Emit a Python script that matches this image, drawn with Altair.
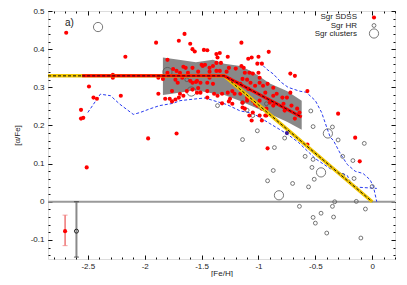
import altair as alt
import pandas as pd

XMIN, XMAX = -2.85, 0.2
YMIN, YMAX = -0.15, 0.5

x_major = [-2.5, -2.0, -1.5, -1.0, -0.5, 0.0]
x_minor = [round(-2.8 + 0.1 * i, 2) for i in range(31)]
y_major = [-0.1, 0.0, 0.1, 0.2, 0.3, 0.4, 0.5]
y_minor = [round(-0.14 + 0.02 * i, 2) for i in range(33)]

sdss_feh = [-2.69, -2.17, -2.49, -2.45, -2.42, -2.56, -2.56, -2.54, -2.28, -2.28, -2.21, -2.51, -1.97, -1.90, -1.88,
            -1.65, -1.70, -1.60, -1.58, -1.56, -1.48, -1.45, -1.37, -1.34, -1.36, -1.27, -1.15, -1.09, -1.06, -1.00, -0.91,
            -1.80, -1.66, -1.64, -1.58, -1.50, -1.47, -1.43, -1.37, -1.33, -1.26, -1.20, -1.15, -1.13, -1.08, -1.01, -1.40, -1.49, -0.97,
            -1.69, -1.62, -1.53, -1.43, -1.37, -1.34, -1.28, -1.72, -1.75, -1.80, -1.00, -0.99, -0.99, -1.12, -1.05,
            -1.84, -1.73, -1.67, -1.71, -1.60, -1.54, -1.51, -1.58, -1.55, -1.45, -1.40, -1.43, -1.25, -1.21, -1.16, -1.10, -1.19, -1.14, -1.07, -1.03, -0.96, -0.92, -0.87, -1.09, -0.72, -0.68,
            -1.45, -1.54, -1.58, -1.63, -1.69, -1.76, -1.88, -1.82, -1.66, -1.53, -1.36, -1.23, -1.21, -1.73, -1.39, -1.25, -1.78, -1.70, -1.51, -1.45, -1.32, -1.26, -1.27, -1.16, -1.10, -0.94, -0.87, -0.84, -0.79, -0.75, -0.72, -0.57,
            -1.23, -1.14, -1.76, -1.32, -1.03, -1.14, -0.97, -0.94, -1.05, -0.78, -0.71, -0.66, -0.64, -0.77, -0.87, -0.90, -0.99, -1.05, -1.10, -1.12, -1.01, -0.93, -0.93, -0.99, -0.97, -1.08, -1.06, -0.68, -0.30,
            -1.72, -0.92, -0.57, -0.15, -0.11]
sdss_afe = [0.443, 0.380, 0.302, 0.273, 0.270, 0.241, 0.218, 0.220, 0.333, 0.325, 0.278, 0.090, 0.166, 0.417, 0.325,
            0.440, 0.422, 0.414, 0.400, 0.394, 0.398, 0.397, 0.387, 0.390, 0.378, 0.380, 0.417, 0.375, 0.378, 0.380, 0.393,
            0.372, 0.354, 0.351, 0.351, 0.359, 0.359, 0.351, 0.364, 0.364, 0.351, 0.349, 0.356, 0.351, 0.338, 0.362, 0.356, 0.356, 0.362,
            0.338, 0.338, 0.341, 0.341, 0.343, 0.343, 0.341, 0.343, 0.348, 0.338, 0.338, 0.325, 0.312, 0.338, 0.336,
            0.322, 0.320, 0.325, 0.312, 0.317, 0.317, 0.312, 0.312, 0.314, 0.312, 0.309, 0.325, 0.320, 0.312, 0.309, 0.320, 0.312, 0.322, 0.312, 0.304, 0.304, 0.309, 0.299, 0.296, 0.336, 0.330,
            0.290, 0.286, 0.294, 0.290, 0.283, 0.290, 0.283, 0.270, 0.278, 0.298, 0.278, 0.290, 0.283, 0.268, 0.283, 0.270, 0.270, 0.273, 0.286, 0.273, 0.283, 0.263, 0.286, 0.283, 0.273, 0.286, 0.278, 0.283, 0.273, 0.273, 0.286, 0.290,
            0.257, 0.260, 0.263, 0.258, 0.257, 0.247, 0.244, 0.226, 0.234, 0.257, 0.252, 0.244, 0.234, 0.239, 0.252, 0.260, 0.265, 0.265, 0.265, 0.244, 0.252, 0.244, 0.226, 0.226, 0.213, 0.226, 0.213, 0.218, 0.231,
            0.179, 0.140, 0.150, 0.168, 0.106]

hr_feh = [-1.63, -1.36, -1.10, -1.14, -1.14, -1.05, -0.93, -1.01, -0.77, -0.86, -0.54, -0.52, -0.35, -0.30, -0.87, -0.92, -0.70,
          -0.59, -0.53, -0.52, -0.56, -0.51, -0.64, -0.52, -0.50, -0.45, -0.40, -0.34, -0.35, -0.33, -0.26, -0.17, -0.16, -0.14,
          -0.06, -0.10, -0.07, 0.0, -0.26]
hr_afe = [0.320, 0.252, 0.240, 0.163, 0.260, 0.226, 0.257, 0.186, 0.167, 0.142, 0.238, 0.197, 0.196, 0.162, 0.082, 0.055, 0.048,
          0.119, 0.090, 0.111, 0.039, 0.059, -0.012, -0.041, -0.056, -0.030, -0.082, -0.040, -0.012, 0.000, 0.119, 0.108, 0.061, 0.001,
          -0.019, -0.095, 0.153, 0.040, 0.069]

cl_feh = [-2.41, -1.80, -1.59, -0.39, -0.45, -0.82]
cl_afe = [0.458, 0.340, 0.289, 0.179, 0.077, 0.017]

odd_feh = [-0.75]
odd_afe = [0.180]

band_feh = [-1.84, -1.70, -1.55, -1.40, -1.30, -1.16, -1.05, -0.90, -0.75, -0.62]
band_hi = [0.378, 0.372, 0.366, 0.372, 0.362, 0.356, 0.340, 0.310, 0.290, 0.265]
band_lo = [0.280, 0.286, 0.292, 0.284, 0.280, 0.264, 0.250, 0.230, 0.210, 0.189]

blue_lo_feh = [-2.50, -2.39, -2.30, -2.22, -2.10, -2.04, -1.95, -1.87, -1.75, -1.69, -1.54, -1.47, -1.36, -1.28, -1.16,
               -1.05, -0.90, -0.75, -0.65, -0.50, -0.37, -0.22, -0.17, 0.04]
blue_lo_afe = [0.234, 0.282, 0.278, 0.256, 0.229, 0.234, 0.244, 0.252, 0.258, 0.265, 0.270, 0.272, 0.262, 0.255, 0.238,
               0.232, 0.205, 0.178, 0.156, 0.113, 0.087, 0.069, 0.039, 0.035]
blue_hi_feh = [-0.99, -0.93, -0.87, -0.80, -0.74, -0.64, -0.58, -0.50, -0.445, -0.40, -0.37, -0.34, -0.28, -0.22, -0.15,
               -0.08, -0.02, 0.01, 0.04]
blue_hi_afe = [0.366, 0.348, 0.335, 0.313, 0.300, 0.290, 0.287, 0.265, 0.234, 0.195, 0.170, 0.160, 0.126, 0.098, 0.080,
               0.074, 0.058, 0.040, 0.0]

red_feh = [-2.55, -1.30, -0.62]
red_afe = [0.33, 0.33, 0.222]
yel_feh = [-2.85, -1.30, 0.0]
yel_afe = [0.33, 0.33, 0.0]

err_feh = [-2.70, -2.60]
err_afe = [-0.077, -0.077]
err_lo = [-0.115, -0.145]
err_hi = [-0.035, 0.0]

legend_labels = ["Sgr SDSS", "Sgr HR", "Sgr clusters"]

FONT = "Liberation Sans"
xs = alt.Scale(domain=[XMIN, XMAX], nice=False, zero=False)
ys = alt.Scale(domain=[YMIN, YMAX], nice=False, zero=False)
LBL = "replace(format(datum.value, '~g'), '\u2212', '-')"


def axis(orient, values, size, labels=False, title=None, tpad=4, lpad=4):
    kw = dict(orient=orient, values=values, offset=-size, tickSize=size, domain=False, grid=False,
              tickColor="#111", tickWidth=1, title=title)
    if labels:
        kw.update(labels=True, labelExpr=LBL, labelFont=FONT, labelFontSize=8, labelColor="#222",
                  labelPadding=lpad, labelFlush=False, labelOverlap=False,
                  titleFont=FONT, titleFontSize=8, titleFontWeight="normal", titleColor="#222",
                  titlePadding=tpad)
    else:
        kw.update(labels=False)
    return alt.Axis(**kw)


def X(f, ax=None):
    return alt.X(f, type="quantitative", scale=xs, axis=ax)


def Y(f, ax=None):
    return alt.Y(f, type="quantitative", scale=ys, axis=ax)


sdss = pd.DataFrame({"x": sdss_feh, "y": sdss_afe})
hr = pd.DataFrame({"x": hr_feh, "y": hr_afe})
cl = pd.DataFrame({"x": cl_feh, "y": cl_afe})
odd = pd.DataFrame({"x": odd_feh, "y": odd_afe})
band = pd.DataFrame({"x": band_feh, "hi": band_hi, "lo": band_lo})
blo = pd.DataFrame({"x": blue_lo_feh, "y": blue_lo_afe, "i": range(len(blue_lo_feh))})
bhi = pd.DataFrame({"x": blue_hi_feh, "y": blue_hi_afe, "i": range(len(blue_hi_feh))})
red = pd.DataFrame({"x": red_feh, "y": red_afe, "i": range(3)})
yel = pd.DataFrame({"x": yel_feh, "y": yel_afe, "i": range(3)})
err = pd.DataFrame({"x": err_feh, "y": err_afe, "lo": err_lo, "hi": err_hi})
zero = pd.DataFrame({"y": [0.0]})

band_l = alt.Chart(band).mark_area(color="#888888", opacity=1).encode(
    x=X("x", axis("bottom", x_major, 4, labels=True, title="[Fe/H]", tpad=-1, lpad=3)),
    y=Y("hi", axis("left", y_major, 4, labels=True, title="[\u03b1/Fe]", tpad=9)),
    y2="lo")

zero_l = alt.Chart(zero).mark_rule(color="#9a9a9a", strokeWidth=2).encode(y=Y("y"))

blue_lo_l = alt.Chart(blo).mark_line(color="#2a3cf0", strokeWidth=1, strokeDash=[3, 2], clip=True).encode(
    x=X("x"), y=Y("y"), order="i:Q")
blue_hi_l = alt.Chart(bhi).mark_line(color="#2a3cf0", strokeWidth=1, strokeDash=[3, 2], clip=True).encode(
    x=X("x"), y=Y("y"), order="i:Q")

hr_l = alt.Chart(hr).mark_point(shape="circle", filled=False, color="#555555", size=15, strokeWidth=0.8, opacity=1).encode(
    x=X("x", axis("top", x_major, 4)), y=Y("y", axis("right", y_major, 4)))
cl_l = alt.Chart(cl).mark_point(shape="circle", filled=False, color="#555555", size=85, strokeWidth=0.8, opacity=1).encode(
    x=X("x", axis("top", x_minor, 2)), y=Y("y", axis("right", y_minor, 2)))
sdss_l = alt.Chart(sdss).mark_circle(color="#ff0000", size=17, opacity=1).encode(
    x=X("x", axis("bottom", x_minor, 2)), y=Y("y", axis("left", y_minor, 2)))
odd_l = alt.Chart(odd).mark_circle(color="#3a1a9a", size=17, opacity=1).encode(x=X("x"), y=Y("y"))

yel_l = alt.Chart(yel).mark_line(color="#f0c400", strokeWidth=3.5, clip=True).encode(x=X("x"), y=Y("y"), order="i:Q")
yel_d = alt.Chart(yel).mark_line(color="#111111", strokeWidth=1, strokeDash=[3, 2], clip=True).encode(x=X("x"), y=Y("y"), order="i:Q")
red_l = alt.Chart(red).mark_line(color="#ff0000", strokeWidth=3).encode(x=X("x"), y=Y("y"), order="i:Q")
red_d = alt.Chart(red).mark_line(color="#111111", strokeWidth=1, strokeDash=[3, 2]).encode(x=X("x"), y=Y("y"), order="i:Q")

err_r = err.iloc[[0]]
err_g = err.iloc[[1]]
e1 = alt.Chart(err_r).mark_rule(color="#e53030", strokeWidth=1).encode(x=X("x"), y=Y("lo"), y2="hi")
e1c = alt.Chart(err_r).transform_fold(["lo", "hi"]).mark_tick(orient="horizontal", size=5, thickness=1, color="#f07a7a").encode(
    x=X("x"), y=Y("value:Q"))
e1p = alt.Chart(err_r).mark_circle(color="#ff0000", size=17, opacity=1).encode(x=X("x"), y=Y("y"))
e2 = alt.Chart(err_g).mark_rule(color="#8a8a8a", strokeWidth=2).encode(x=X("x"), y=Y("lo"), y2="hi")
e2c = alt.Chart(err_g).transform_fold(["lo", "hi"]).mark_tick(orient="horizontal", size=5, thickness=1, color="#222222").encode(
    x=X("x"), y=Y("value:Q"))
e2p = alt.Chart(err_g).mark_point(shape="circle", filled=False, color="#222222", size=16, strokeWidth=1, opacity=1).encode(
    x=X("x"), y=Y("y"))

leg_rows = []
for lab, yy in zip(legend_labels, [6, 14.5, 23]):
    leg_rows.append(alt.Chart(pd.DataFrame({"t": [lab]})).mark_text(
        align="right", baseline="middle", font=FONT, fontSize=8, color="#222").encode(
        x=alt.value(309), y=alt.value(yy), text="t:N"))
sym1 = alt.Chart(pd.DataFrame({"t": [legend_labels[0]]})).mark_circle(color="#ff0000", size=17, opacity=1).encode(
    x=alt.value(326), y=alt.value(6.5))
sym2 = alt.Chart(pd.DataFrame({"t": [legend_labels[1]]})).mark_point(shape="circle", filled=False, color="#555555", size=15, strokeWidth=0.8, opacity=1).encode(
    x=alt.value(326), y=alt.value(14.5))
sym3 = alt.Chart(pd.DataFrame({"t": [legend_labels[2]]})).mark_point(shape="circle", filled=False, color="#555555", size=85, strokeWidth=0.8, opacity=1).encode(
    x=alt.value(326), y=alt.value(22.5))
panel = alt.Chart(pd.DataFrame({"t": ["a)"]})).mark_text(
    align="left", baseline="alphabetic", font=FONT, fontSize=10, color="#222").encode(
    x=alt.value(17), y=alt.value(15), text="t:N")

chart = alt.layer(
    band_l, zero_l, blue_lo_l, blue_hi_l, hr_l, cl_l, sdss_l,
    yel_l, yel_d, red_l, red_d, odd_l,
    e2, e2c, e2p, e1, e1c, e1p,
    *leg_rows, sym1, sym2, sym3, panel
).resolve_axis(x="independent", y="independent").properties(
    width=347, height=248,
    autosize=alt.AutoSizeParams(type="none"),
    padding={"left": 40, "top": 3, "right": 4, "bottom": 18},
).configure_view(stroke="#222222", strokeWidth=1.2).configure(background="white")

chart.save("out.html", embed_options={"renderer": "svg", "actions": False})
